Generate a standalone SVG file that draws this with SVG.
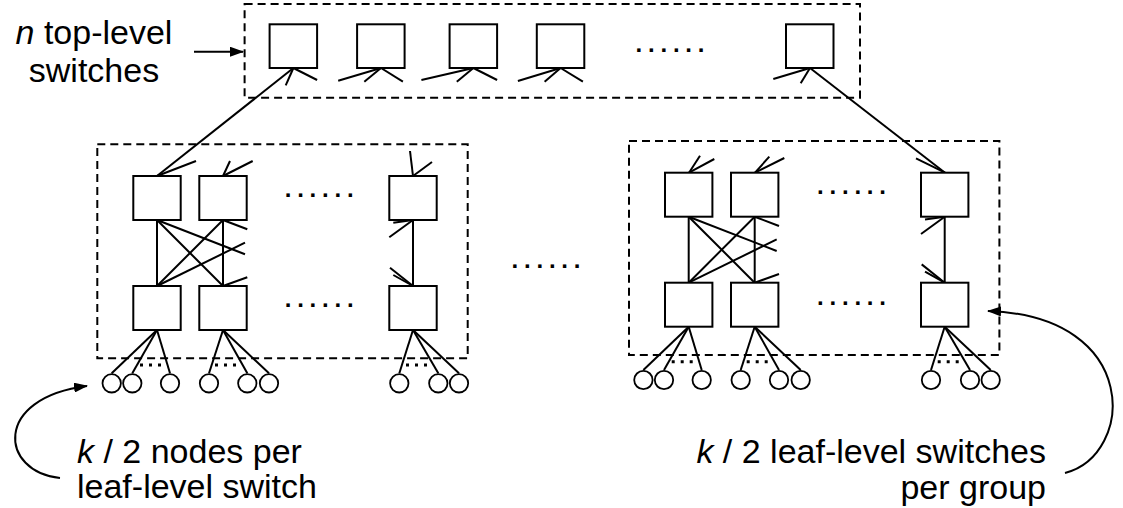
<svg xmlns="http://www.w3.org/2000/svg" width="1123" height="508" viewBox="0 0 1123 508">
  <defs>
    <style>
      .sw{fill:#fff;stroke:#000;stroke-width:2}
      .nd{fill:#fff;stroke:#000;stroke-width:1.8}
      .grp{fill:none;stroke:#000;stroke-width:2;stroke-dasharray:8 5}
      .ln{fill:none;stroke:#000;stroke-width:2}
      .dotln{fill:none;stroke:#000;stroke-width:3;stroke-dasharray:3 6}
      .lbl{font-family:"Liberation Sans",Arial,sans-serif;font-size:34px;fill:#000}
      .dots{font-family:"Liberation Sans",Arial,sans-serif;font-weight:bold;font-size:24px;letter-spacing:5.8px;fill:#000}
    </style>
    <marker id="head" viewBox="0 0 14 10" refX="13" refY="5" markerWidth="14" markerHeight="10" markerUnits="userSpaceOnUse" orient="auto">
      <path d="M0,0 L14,5 L0,10 Z" fill="#000"/>
    </marker>
  </defs>
  <rect width="1123" height="508" fill="#fff"/>

  <!-- dashed group outlines -->
  <g id="top-level-group"><rect class="grp" x="244.6" y="4" width="615.4" height="93.7"/></g>
  <g id="leaf-group-1"><rect class="grp" x="97.3" y="144.3" width="370.4" height="214"/></g>
  <g id="leaf-group-2"><rect class="grp" x="629" y="141" width="370.4" height="214"/></g>

  <!-- links -->
  <g id="connectors">
    <!-- top-level uplinks -->
    <line class="ln" x1="293.4" y1="68" x2="157" y2="176"/>
    <line class="ln" x1="293.4" y1="68" x2="285.7" y2="85.3"/>
    <line class="ln" x1="293.4" y1="68" x2="317.1" y2="80"/>
    <line class="ln" x1="381" y1="68" x2="338.2" y2="80.7"/>
    <line class="ln" x1="381" y1="68" x2="364.3" y2="81.7"/>
    <line class="ln" x1="381" y1="68" x2="402.9" y2="81.7"/>
    <line class="ln" x1="473.4" y1="68" x2="421.4" y2="80"/>
    <line class="ln" x1="473.4" y1="68" x2="456.8" y2="81.7"/>
    <line class="ln" x1="473.4" y1="68" x2="497.1" y2="80"/>
    <line class="ln" x1="560.6" y1="68" x2="517.9" y2="81"/>
    <line class="ln" x1="560.6" y1="68" x2="544.6" y2="81.7"/>
    <line class="ln" x1="560.6" y1="68" x2="582.9" y2="81.7"/>
    <line class="ln" x1="810" y1="68" x2="773.3" y2="79"/>
    <line class="ln" x1="810" y1="68" x2="800.7" y2="83.3"/>
    <line class="ln" x1="810" y1="68" x2="945" y2="172.7"/>

    <!-- upper-row stubs, group 1 -->
    <line class="ln" x1="157" y1="176" x2="196" y2="161"/>
    <line class="ln" x1="223" y1="176" x2="230" y2="161"/>
    <line class="ln" x1="223" y1="176" x2="252.7" y2="161"/>
    <line class="ln" x1="413" y1="176" x2="410" y2="151"/>
    <line class="ln" x1="413" y1="176" x2="432" y2="162"/>
    <!-- upper-row stubs, group 2 -->
    <line class="ln" x1="689" y1="172.7" x2="700" y2="155.7"/>
    <line class="ln" x1="689" y1="172.7" x2="714.3" y2="159"/>
    <line class="ln" x1="755" y1="172.7" x2="769.3" y2="156.7"/>
    <line class="ln" x1="755" y1="172.7" x2="784.3" y2="158"/>
    <line class="ln" x1="945" y1="172.7" x2="916" y2="158.3"/>

    <!-- in-group wiring, group 1 -->
    <g id="wiring-1">
      <line class="ln" x1="157" y1="220" x2="157" y2="286"/>
      <line class="ln" x1="157" y1="220" x2="223" y2="286"/>
      <line class="ln" x1="223" y1="220" x2="157" y2="286"/>
      <line class="ln" x1="223" y1="220" x2="223" y2="286"/>
      <line class="ln" x1="157" y1="220" x2="245" y2="254.3"/>
      <line class="ln" x1="223" y1="220" x2="247.3" y2="229.3"/>
      <line class="ln" x1="157" y1="286" x2="245" y2="242.7"/>
      <line class="ln" x1="223" y1="286" x2="247.3" y2="277.3"/>
      <line class="ln" x1="413" y1="220" x2="413" y2="286"/>
      <line class="ln" x1="413" y1="220" x2="389.3" y2="237.3"/>
      <line class="ln" x1="413" y1="220" x2="393.3" y2="222.7"/>
      <line class="ln" x1="413" y1="286" x2="390" y2="267.7"/>
      <line class="ln" x1="413" y1="286" x2="393.3" y2="275"/>
      <!-- node links -->
      <line class="ln" x1="157" y1="330" x2="111.7" y2="373.3"/>
      <line class="ln" x1="157" y1="330" x2="132.3" y2="373.3"/>
      <line class="ln" x1="157" y1="330" x2="170" y2="373.3"/>
      <line class="ln" x1="223" y1="330" x2="209" y2="373.3"/>
      <line class="ln" x1="223" y1="330" x2="247.3" y2="373.3"/>
      <line class="ln" x1="223" y1="330" x2="269" y2="373.3"/>
      <line class="ln" x1="413" y1="330" x2="399.3" y2="373.3"/>
      <line class="ln" x1="413" y1="330" x2="438.3" y2="373.3"/>
      <line class="ln" x1="413" y1="330" x2="459" y2="373.3"/>
    </g>
    <!-- in-group wiring, group 2 (same layout, shifted) -->
    <g id="wiring-2" transform="translate(531.7,-3.3)">
      <line class="ln" x1="157" y1="220" x2="157" y2="286"/>
      <line class="ln" x1="157" y1="220" x2="223" y2="286"/>
      <line class="ln" x1="223" y1="220" x2="157" y2="286"/>
      <line class="ln" x1="223" y1="220" x2="223" y2="286"/>
      <line class="ln" x1="157" y1="220" x2="245" y2="254.3"/>
      <line class="ln" x1="223" y1="220" x2="247.3" y2="229.3"/>
      <line class="ln" x1="157" y1="286" x2="245" y2="242.7"/>
      <line class="ln" x1="223" y1="286" x2="247.3" y2="277.3"/>
      <line class="ln" x1="413" y1="220" x2="413" y2="286"/>
      <line class="ln" x1="413" y1="220" x2="389.3" y2="237.3"/>
      <line class="ln" x1="413" y1="220" x2="393.3" y2="222.7"/>
      <line class="ln" x1="413" y1="286" x2="390" y2="267.7"/>
      <line class="ln" x1="413" y1="286" x2="393.3" y2="275"/>
      <line class="ln" x1="157" y1="330" x2="111.7" y2="373.3"/>
      <line class="ln" x1="157" y1="330" x2="132.3" y2="373.3"/>
      <line class="ln" x1="157" y1="330" x2="170" y2="373.3"/>
      <line class="ln" x1="223" y1="330" x2="209" y2="373.3"/>
      <line class="ln" x1="223" y1="330" x2="247.3" y2="373.3"/>
      <line class="ln" x1="223" y1="330" x2="269" y2="373.3"/>
      <line class="ln" x1="413" y1="330" x2="399.3" y2="373.3"/>
      <line class="ln" x1="413" y1="330" x2="438.3" y2="373.3"/>
      <line class="ln" x1="413" y1="330" x2="459" y2="373.3"/>
    </g>

    <!-- callout arrows -->
    <line class="ln" x1="194" y1="51.7" x2="243" y2="51.7" marker-end="url(#head)"/>
    <path class="ln" d="M60,478 C0,472 -8,398 87,386" marker-end="url(#head)"/>
    <path class="ln" d="M1065,473 C1135,455 1142,316 988,311" marker-end="url(#head)"/>
  </g>

  <!-- top-level switches -->
  <g id="top-1"><rect class="sw" x="269.6" y="24.3" width="47.5" height="43.7"/></g>
  <g id="top-2"><rect class="sw" x="357.1" y="24.3" width="47.5" height="43.7"/></g>
  <g id="top-3"><rect class="sw" x="449.6" y="24.3" width="47.5" height="43.7"/></g>
  <g id="top-4"><rect class="sw" x="536.8" y="24.3" width="47.5" height="43.7"/></g>
  <g id="top-n"><rect class="sw" x="786" y="24.3" width="47.5" height="43.7"/></g>
  <text class="dots" x="635.5" y="51.5">......</text>

  <!-- group 1 switches -->
  <g id="g1-upper-1"><rect class="sw" x="133.3" y="176" width="47.4" height="44"/></g>
  <g id="g1-upper-2"><rect class="sw" x="199.3" y="176" width="47.4" height="44"/></g>
  <g id="g1-upper-k"><rect class="sw" x="389.3" y="176" width="47.4" height="44"/></g>
  <g id="g1-leaf-1"><rect class="sw" x="133.3" y="286" width="47.4" height="44"/></g>
  <g id="g1-leaf-2"><rect class="sw" x="199.3" y="286" width="47.4" height="44"/></g>
  <g id="g1-leaf-k"><rect class="sw" x="389.3" y="286" width="47.4" height="44"/></g>
  <text class="dots" x="284.7" y="197.2">......</text>
  <text class="dots" x="284.7" y="307.2">......</text>

  <!-- group 2 switches -->
  <g id="g2-upper-1"><rect class="sw" x="665" y="172.7" width="47.4" height="44"/></g>
  <g id="g2-upper-2"><rect class="sw" x="731" y="172.7" width="47.4" height="44"/></g>
  <g id="g2-upper-k"><rect class="sw" x="921" y="172.7" width="47.4" height="44"/></g>
  <g id="g2-leaf-1"><rect class="sw" x="665" y="282.7" width="47.4" height="44"/></g>
  <g id="g2-leaf-2"><rect class="sw" x="731" y="282.7" width="47.4" height="44"/></g>
  <g id="g2-leaf-k"><rect class="sw" x="921" y="282.7" width="47.4" height="44"/></g>
  <text class="dots" x="817" y="194.2">......</text>
  <text class="dots" x="817" y="304.8">......</text>

  <!-- gap between groups -->
  <text class="dots" x="511.5" y="268.2">......</text>

  <!-- compute nodes, group 1 -->
  <g id="g1-n1"><circle class="nd" cx="111.7" cy="383.3" r="9.2"/></g>
  <g id="g1-n2"><circle class="nd" cx="132.3" cy="383.3" r="9.2"/></g>
  <g id="g1-n3"><circle class="nd" cx="170" cy="383.3" r="9.2"/></g>
  <g id="g1-n4"><circle class="nd" cx="209" cy="383.3" r="9.2"/></g>
  <g id="g1-n5"><circle class="nd" cx="247.3" cy="383.3" r="9.2"/></g>
  <g id="g1-n6"><circle class="nd" cx="269" cy="383.3" r="9.2"/></g>
  <g id="g1-n7"><circle class="nd" cx="399.3" cy="383.3" r="9.2"/></g>
  <g id="g1-n8"><circle class="nd" cx="438.3" cy="383.3" r="9.2"/></g>
  <g id="g1-n9"><circle class="nd" cx="459" cy="383.3" r="9.2"/></g>
  <line class="dotln" x1="140" y1="365" x2="167" y2="365"/>
  <line class="dotln" x1="215" y1="365" x2="241" y2="365"/>
  <line class="dotln" x1="406" y1="365" x2="431" y2="365"/>

  <!-- compute nodes, group 2 -->
  <g id="g2-n1"><circle class="nd" cx="643.4" cy="380" r="9.2"/></g>
  <g id="g2-n2"><circle class="nd" cx="664" cy="380" r="9.2"/></g>
  <g id="g2-n3"><circle class="nd" cx="701.7" cy="380" r="9.2"/></g>
  <g id="g2-n4"><circle class="nd" cx="740.7" cy="380" r="9.2"/></g>
  <g id="g2-n5"><circle class="nd" cx="779" cy="380" r="9.2"/></g>
  <g id="g2-n6"><circle class="nd" cx="800.7" cy="380" r="9.2"/></g>
  <g id="g2-n7"><circle class="nd" cx="931" cy="380" r="9.2"/></g>
  <g id="g2-n8"><circle class="nd" cx="970" cy="380" r="9.2"/></g>
  <g id="g2-n9"><circle class="nd" cx="990.7" cy="380" r="9.2"/></g>
  <line class="dotln" x1="671.7" y1="361.7" x2="698.7" y2="361.7"/>
  <line class="dotln" x1="746.7" y1="361.7" x2="772.7" y2="361.7"/>
  <line class="dotln" x1="937.7" y1="361.7" x2="962.7" y2="361.7"/>

  <!-- labels -->
  <g id="label-top">
    <text class="lbl" x="94" y="44" text-anchor="middle"><tspan font-style="italic">n</tspan> top-level</text>
    <text class="lbl" x="94" y="82" text-anchor="middle">switches</text>
  </g>
  <g id="label-nodes">
    <text class="lbl" x="77" y="463"><tspan font-style="italic">k</tspan> / 2 nodes per</text>
    <text class="lbl" x="77" y="498">leaf-level switch</text>
  </g>
  <g id="label-leaves">
    <text class="lbl" x="1046" y="463" text-anchor="end"><tspan font-style="italic">k</tspan> / 2 leaf-level switches</text>
    <text class="lbl" x="1046" y="499" text-anchor="end">per group</text>
  </g>
</svg>
